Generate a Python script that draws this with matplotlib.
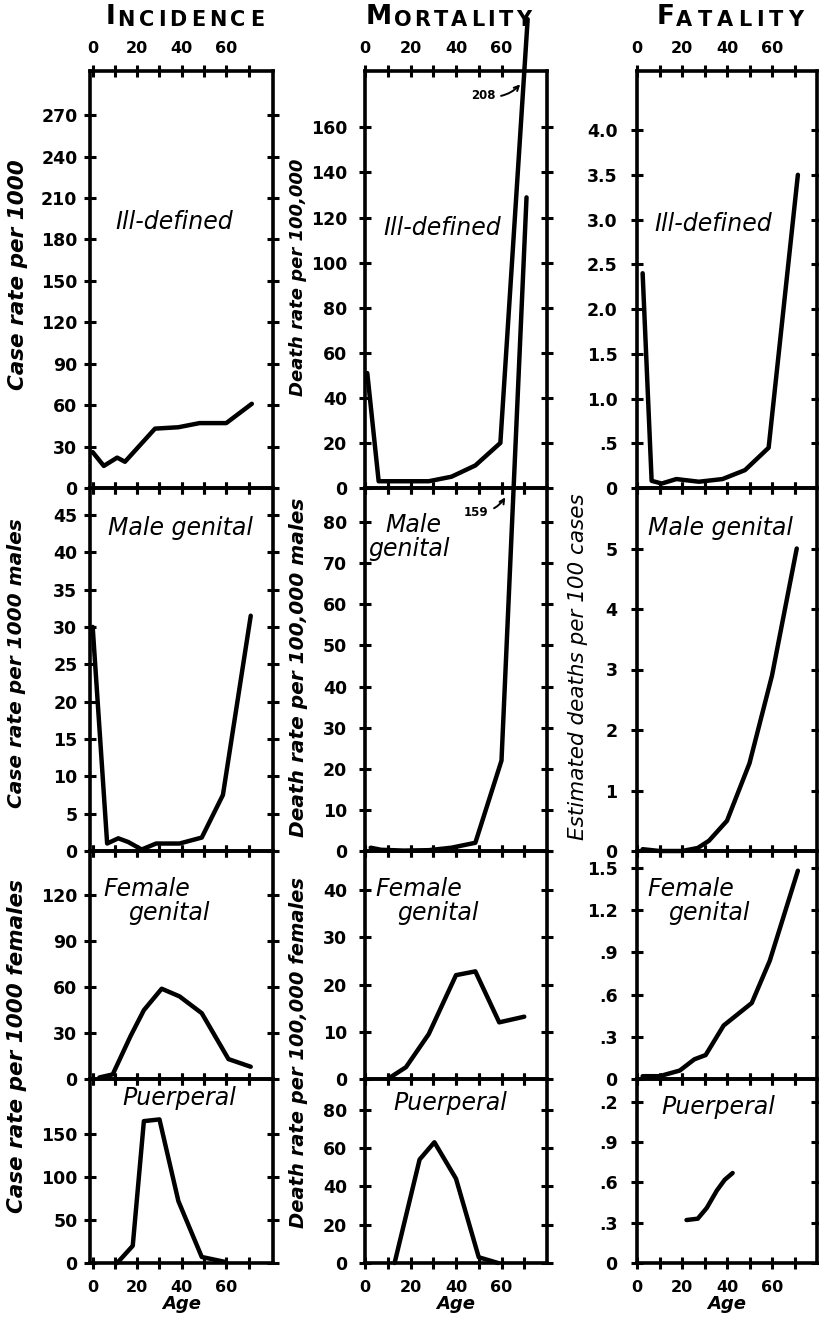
import matplotlib.pyplot as plt
from matplotlib.text import Annotation

plt.rcParams["font.family"] = "DejaVu Sans"

# ---- values (age, rate) ----
# Ill-defined
inc_ill_age = [0, 5, 11, 14.5, 28, 38.5, 48, 60, 71.5]
inc_ill = [26, 16, 22, 19, 43, 44, 47, 47, 61]
mort_ill_age = [1, 6, 12, 17, 28, 38, 48.5, 59.5, 71.5]
mort_ill = [51, 3, 3, 3, 3, 5, 10, 20, 208]
fat_ill_age = [2.5, 6.5, 11, 17.5, 27.5, 38, 48, 58.5, 71.5]
fat_ill = [2.4, 0.08, 0.05, 0.1, 0.07, 0.1, 0.2, 0.45, 3.5]
# Male genital
inc_male_age = [0, 6.5, 11.5, 16, 22, 28.5, 39, 49, 58.5, 71]
inc_male = [30, 1, 1.7, 1.2, 0.2, 1, 1, 1.8, 7.5, 31.5]
mort_male_age = [2.5, 7, 12, 17, 28, 38, 48.5, 60, 71]
mort_male = [0.8, 0.3, 0.2, 0.1, 0.2, 0.8, 2, 22, 159]
fat_male_age = [2.5, 10, 20, 27, 32, 40, 50, 60, 71]
fat_male = [0.03, 0, 0, 0.05, 0.17, 0.5, 1.45, 2.9, 5.0]
# Female genital
inc_fem_age = [3, 9, 17, 23, 31, 39, 49, 61, 71]
inc_fem = [1, 3, 28, 45, 59, 54, 43, 13, 8]
mort_fem_age = [10, 18, 28, 40, 48.5, 59, 70]
mort_fem = [0, 2.5, 9.5, 22, 22.8, 12, 13.2]
fat_fem_age = [2.5, 10, 19, 25.5, 30.5, 38.5, 51, 59, 71.5]
fat_fem = [0.02, 0.02, 0.06, 0.14, 0.17, 0.38, 0.54, 0.84, 1.48]
# Puerperal
inc_puer_age = [11, 18, 23, 30, 38.5, 49, 60]
inc_puer = [0, 20, 165, 167, 72, 7, 1]
mort_puer_age = [13, 24, 30.5, 40, 50, 58.5]
mort_puer = [0, 54, 63, 44, 3, 0]
fat_puer_age = [22, 27, 31, 35.5, 39, 42.5]
fat_puer = [0.32, 0.33, 0.41, 0.54, 0.62, 0.67]

column_titles = ["INCIDENCE", "MORTALITY", "FATALITY"]
row_names = ["Ill-defined", "Male genital", "Female genital", "Puerperal"]

inc_ticks = [list(range(0, 271, 30)), list(range(0, 46, 5)), list(range(0, 121, 30)), [0, 50, 100, 150]]
mort_ticks = [list(range(0, 161, 20)), list(range(0, 81, 10)), list(range(0, 41, 10)), list(range(0, 81, 20))]
fat_ticks = [[0, .5, 1, 1.5, 2, 2.5, 3, 3.5, 4], [0, 1, 2, 3, 4, 5], [0, .3, .6, .9, 1.2, 1.5], [0, .3, .6, .9, 1.2]]
fat_labels = [["0", ".5", "1.0", "1.5", "2.0", "2.5", "3.0", "3.5", "4.0"],
              ["0", "1", "2", "3", "4", "5"],
              ["0", ".3", ".6", ".9", "1.2", "1.5"],
              ["0", ".3", ".6", ".9", ".2"]]

series = [
    [(inc_ill_age, inc_ill), (mort_ill_age, mort_ill), (fat_ill_age, fat_ill)],
    [(inc_male_age, inc_male), (mort_male_age, mort_male), (fat_male_age, fat_male)],
    [(inc_fem_age, inc_fem), (mort_fem_age, mort_fem), (fat_fem_age, fat_fem)],
    [(inc_puer_age, inc_puer), (mort_puer_age, mort_puer), (fat_puer_age, fat_puer)],
]
ytops = [[302, 185, 4.66], [48.6, 88.3, 6.0], [149, 48.3, 1.62], [214, 96, 1.37]]

W, H = 819, 1321
fig = plt.figure(figsize=(W / 100, H / 100), dpi=100)


def fx(px):
    return px / W


def fy(py):
    return 1 - py / H


col_x = [(90, 273), (365, 547), (637, 817)]
row_y = [(71, 488), (488, 851), (851, 1079), (1079, 1263)]
xlims = [(-1.2, 81), (0, 80), (0, 80)]
ypad = [5, 9, 10]

axes = {}
for r, (y0, y1) in enumerate(row_y):
    for c, (x0, x1) in enumerate(col_x):
        ax = fig.add_axes([fx(x0), fy(y1), (x1 - x0) / W, (y1 - y0) / H])
        ax.set_facecolor("none")
        ages, vals = series[r][c]
        ax.plot(ages, vals, color="black", lw=3.2, solid_joinstyle="round",
                solid_capstyle="round", clip_on=False, zorder=3)
        ax.set_xlim(*xlims[c])
        ax.set_ylim(0, ytops[r][c])
        ax.set_xticks(range(0, 71, 10))
        ax.set_xticklabels(["0", "", "20", "", "40", "", "60", ""],
                           fontsize=11.5, fontweight="bold")
        if c == 0:
            ticks = inc_ticks[r]
            labels = [str(t) for t in ticks]
        elif c == 1:
            ticks = mort_ticks[r]
            labels = [str(t) for t in ticks]
        else:
            ticks = fat_ticks[r]
            labels = fat_labels[r]
        ax.set_yticks(ticks)
        ax.set_yticklabels(labels, fontsize=12.5, fontweight="bold")
        for s in ax.spines.values():
            s.set_linewidth(2.6)
        ax.tick_params(axis="both", direction="inout", length=8, width=2.2,
                       top=True, right=True, bottom=True, left=True,
                       labeltop=(r == 0), labelbottom=(r == 3))
        ax.tick_params(axis="y", pad=ypad[c])
        ax.tick_params(axis="x", pad=7 if r == 0 else 8)
        if r == 3:
            ax.set_xlabel("Age", fontsize=13, fontweight="bold", style="italic", labelpad=0)
        axes[(r, c)] = ax

# arrows to the off-scale values
axes[(0, 1)].annotate("208", xy=(69, 180), xytext=(52, 174), fontsize=8.5, fontweight="bold",
                      ha="center", va="center",
                      arrowprops=dict(arrowstyle="->", lw=1.4, connectionstyle="arc3,rad=0.3"))
axes[(1, 1)].annotate("159", xy=(62.3, 86.6), xytext=(49, 82.4), fontsize=8.5, fontweight="bold",
                      ha="center", va="center",
                      arrowprops=dict(arrowstyle="->", lw=1.4, connectionstyle="arc3,rad=0.3"))


# column titles, small-caps look with wide letter spacing
def smallcaps(x, y, word, track):
    prev = fig.text(fx(x), fy(y), word[0], fontsize=19, fontweight="bold", ha="left", va="bottom")
    for i, ch in enumerate(word[1:]):
        gap = 1.0 if i == 0 else track
        prev = fig.add_artist(Annotation(ch, xy=(1, 0), xycoords=prev, xytext=(gap, 0),
                                         textcoords="offset points", fontsize=15,
                                         fontweight="bold", ha="left", va="bottom"))


smallcaps(106, 30, column_titles[0], 2.9)
smallcaps(366, 30, column_titles[1], 2.4)
smallcaps(657, 30, column_titles[2], 3.6)

# panel names
kw = dict(fontsize=17, style="italic")
fig.text(fx(174), fy(222), row_names[0], ha="center", va="center", **kw)
fig.text(fx(442), fy(228), row_names[0], ha="center", va="center", **kw)
fig.text(fx(713), fy(224), row_names[0], ha="center", va="center", **kw)
fig.text(fx(181), fy(528), row_names[1], ha="center", va="center", **kw)
fig.text(fx(385), fy(525), "Male", ha="left", va="center", **kw)
fig.text(fx(368), fy(549), "genital", ha="left", va="center", **kw)
fig.text(fx(721), fy(528), row_names[1], ha="center", va="center", **kw)
for fx0, gx0 in [(103, 128), (375, 397), (647, 668)]:
    fig.text(fx(fx0), fy(889), "Female", ha="left", va="center", **kw)
    fig.text(fx(gx0), fy(913), "genital", ha="left", va="center", **kw)
fig.text(fx(179), fy(1098), row_names[3], ha="center", va="center", **kw)
fig.text(fx(450), fy(1103), row_names[3], ha="center", va="center", **kw)
fig.text(fx(718), fy(1107), row_names[3], ha="center", va="center", **kw)

# rotated axis titles
ylabels = [
    ("Case rate per 1000", 18, 275, 15.5, "bold"),
    ("Case rate per 1000 males", 17, 663, 14.5, "bold"),
    ("Case rate per 1000 females", 17, 1046, 15.5, "bold"),
    ("Death rate per 100,000", 298, 277, 13, "bold"),
    ("Death rate per 100,000 males", 299, 667, 14.5, "bold"),
    ("Death rate per 100,000 females", 298, 1053, 14, "bold"),
    ("Estimated deaths per 100 cases", 578, 667, 15.5, "normal"),
]
for txt, x, y, size, weight in ylabels:
    fig.text(fx(x), fy(y), txt, rotation=90, ha="center", va="center",
             fontsize=size, fontweight=weight, style="italic")

fig.savefig("out.png", dpi=100, facecolor="white")
